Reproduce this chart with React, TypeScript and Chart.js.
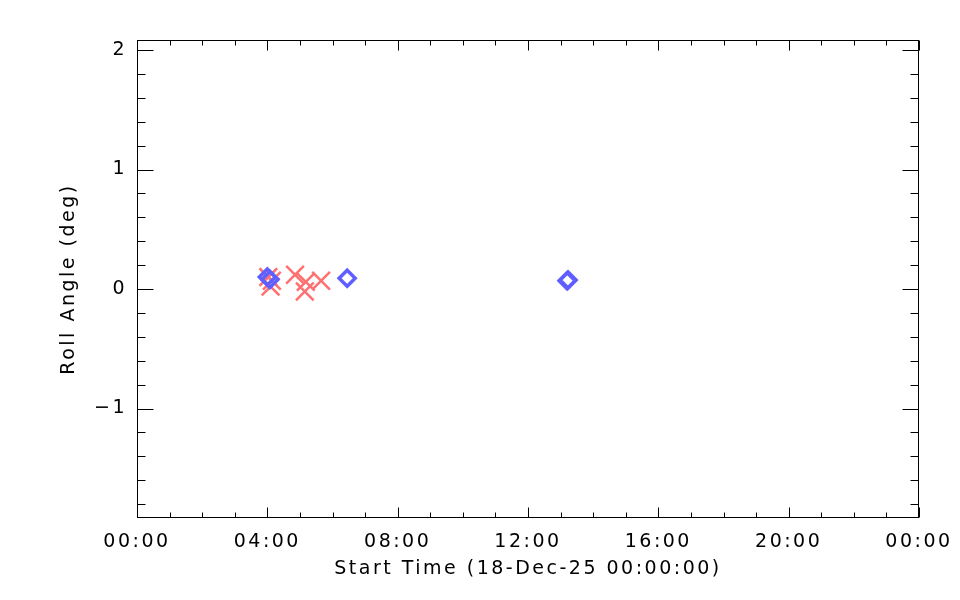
import React, { useEffect, useRef } from "react";
import { Chart, registerables } from "chart.js";

Chart.register(...registerables);

// Start time in hours since 18-Dec-25 00:00:00
const redHours = [4.03, 4.1, 4.14, 4.85, 5.18, 5.15, 5.65];
const redRoll = [0.1, 0.02, 0.07, 0.12, 0.06, -0.02, 0.07];
const blueHours = [4.0, 4.08, 6.45, 13.2, 13.23];
const blueRoll = [0.1, 0.08, 0.09, 0.07, 0.075];

const xTickHours = [0, 4, 8, 12, 16, 20, 24];
const yTickValues = [-1, 0, 1, 2];
const yMin = -1.916;
const yMax = 2.084;
const xTitle = "Start Time (18-Dec-25 00:00:00)";
const yTitle = "Roll Angle (deg)";

const FONT = "'DejaVu Sans ExtraLight', 'DejaVu Sans', sans-serif";

const fmtHour = (h: number) => {
  const hh = Math.round(h) % 24;
  return (hh < 10 ? "0" : "") + hh + ":00";
};

const spacing = {
  id: "spacing",
  beforeDraw(chart: any) {
    chart.ctx.letterSpacing = "2.5px";
  },
};

const frameTicks = {
  id: "frameTicks",
  afterDraw(chart: any) {
    const { ctx, chartArea: a } = chart;
    const xs = chart.scales.x;
    const ys = chart.scales.y;
    ctx.save();
    ctx.strokeStyle = "#000";
    ctx.lineWidth = 1;
    const L = Math.round(a.left) + 0.5;
    const R = Math.round(a.right) - 0.5;
    const T = Math.round(a.top) + 0.5;
    const B = Math.round(a.bottom) - 0.5;
    ctx.strokeRect(L, T, R - L, B - T);
    ctx.beginPath();
    for (let h = 0; h <= 24; h += 1) {
      const px = Math.round(xs.getPixelForValue(h)) + 0.5;
      const len = h % 4 === 0 ? 10 : 5;
      ctx.moveTo(px, B);
      ctx.lineTo(px, B - len);
      ctx.moveTo(px, T);
      ctx.lineTo(px, T + len);
    }
    for (let i = -9; i <= 10; i++) {
      const v = i * 0.2;
      if (v < yMin || v > yMax) continue;
      const py = Math.round(ys.getPixelForValue(v)) + 0.5;
      const len = i % 5 === 0 ? 16 : 8;
      ctx.moveTo(L, py);
      ctx.lineTo(L + len, py);
      ctx.moveTo(R, py);
      ctx.lineTo(R - len, py);
    }
    ctx.stroke();
    ctx.restore();
  },
};

export default function App() {
  const ref = useRef<HTMLCanvasElement>(null);
  useEffect(() => {
    document.body.style.margin = "0";
    const chart = new Chart(ref.current!, {
      type: "scatter",
      data: {
        datasets: [
          {
            label: "blue",
            order: 0,
            data: blueHours.map((h, i) => ({ x: h, y: blueRoll[i] })),
            pointStyle: "rectRot",
            pointRadius: 8,
            borderWidth: 3.5,
            borderColor: "#5f5fff",
            backgroundColor: "rgba(0,0,0,0)",
          },
          {
            label: "red",
            order: 1,
            data: redHours.map((h, i) => ({ x: h, y: redRoll[i] })),
            pointStyle: "crossRot",
            pointRadius: 12.5,
            borderWidth: 2.5,
            borderColor: "#ff7070",
            backgroundColor: "#ff7070",
          },
        ],
      },
      options: {
        animation: false,
        responsive: false,
        layout: { padding: { top: 40, right: 41, left: 0, bottom: 0 } },
        plugins: { legend: { display: false }, tooltip: { enabled: false } },
        scales: {
          x: {
            type: "linear",
            min: 0,
            max: 24,
            afterBuildTicks: (s: any) => {
              s.ticks = xTickHours.map((v) => ({ value: v }));
            },
            afterFit: (s: any) => {
              s.height = 82;
            },
            grid: { display: false, drawTicks: false },
            border: { display: false },
            ticks: {
              padding: 13,
              maxRotation: 0,
              autoSkip: false,
              color: "#000",
              font: { family: FONT, size: 19 },
              callback: (v: any) => fmtHour(Number(v)),
            },
            title: {
              display: true,
              text: xTitle,
              color: "#000",
              font: { family: FONT, size: 19 },
              padding: { top: 0, bottom: 20 },
            },
          },
          y: {
            type: "linear",
            min: yMin,
            max: yMax,
            afterBuildTicks: (s: any) => {
              s.ticks = yTickValues.map((v) => ({ value: v }));
            },
            afterFit: (s: any) => {
              s.width = 137;
            },
            grid: { display: false, drawTicks: false },
            border: { display: false },
            ticks: {
              padding: 10,
              autoSkip: false,
              color: "#000",
              font: { family: FONT, size: 19 },
              callback: (v: any) => {
                const n = Math.round(Number(v));
                return n < 0 ? "\u2212" + Math.abs(n) : String(n);
              },
            },
            title: {
              display: true,
              text: yTitle,
              color: "#000",
              font: { family: FONT, size: 19 },
              padding: { top: 58, bottom: 0 },
            },
          },
        },
      },
      plugins: [spacing, frameTicks],
    });
    return () => chart.destroy();
  }, []);
  return (
    <div style={{ width: 960, height: 600, background: "#fff" }}>
      <canvas ref={ref} width={960} height={600} />
    </div>
  );
}
